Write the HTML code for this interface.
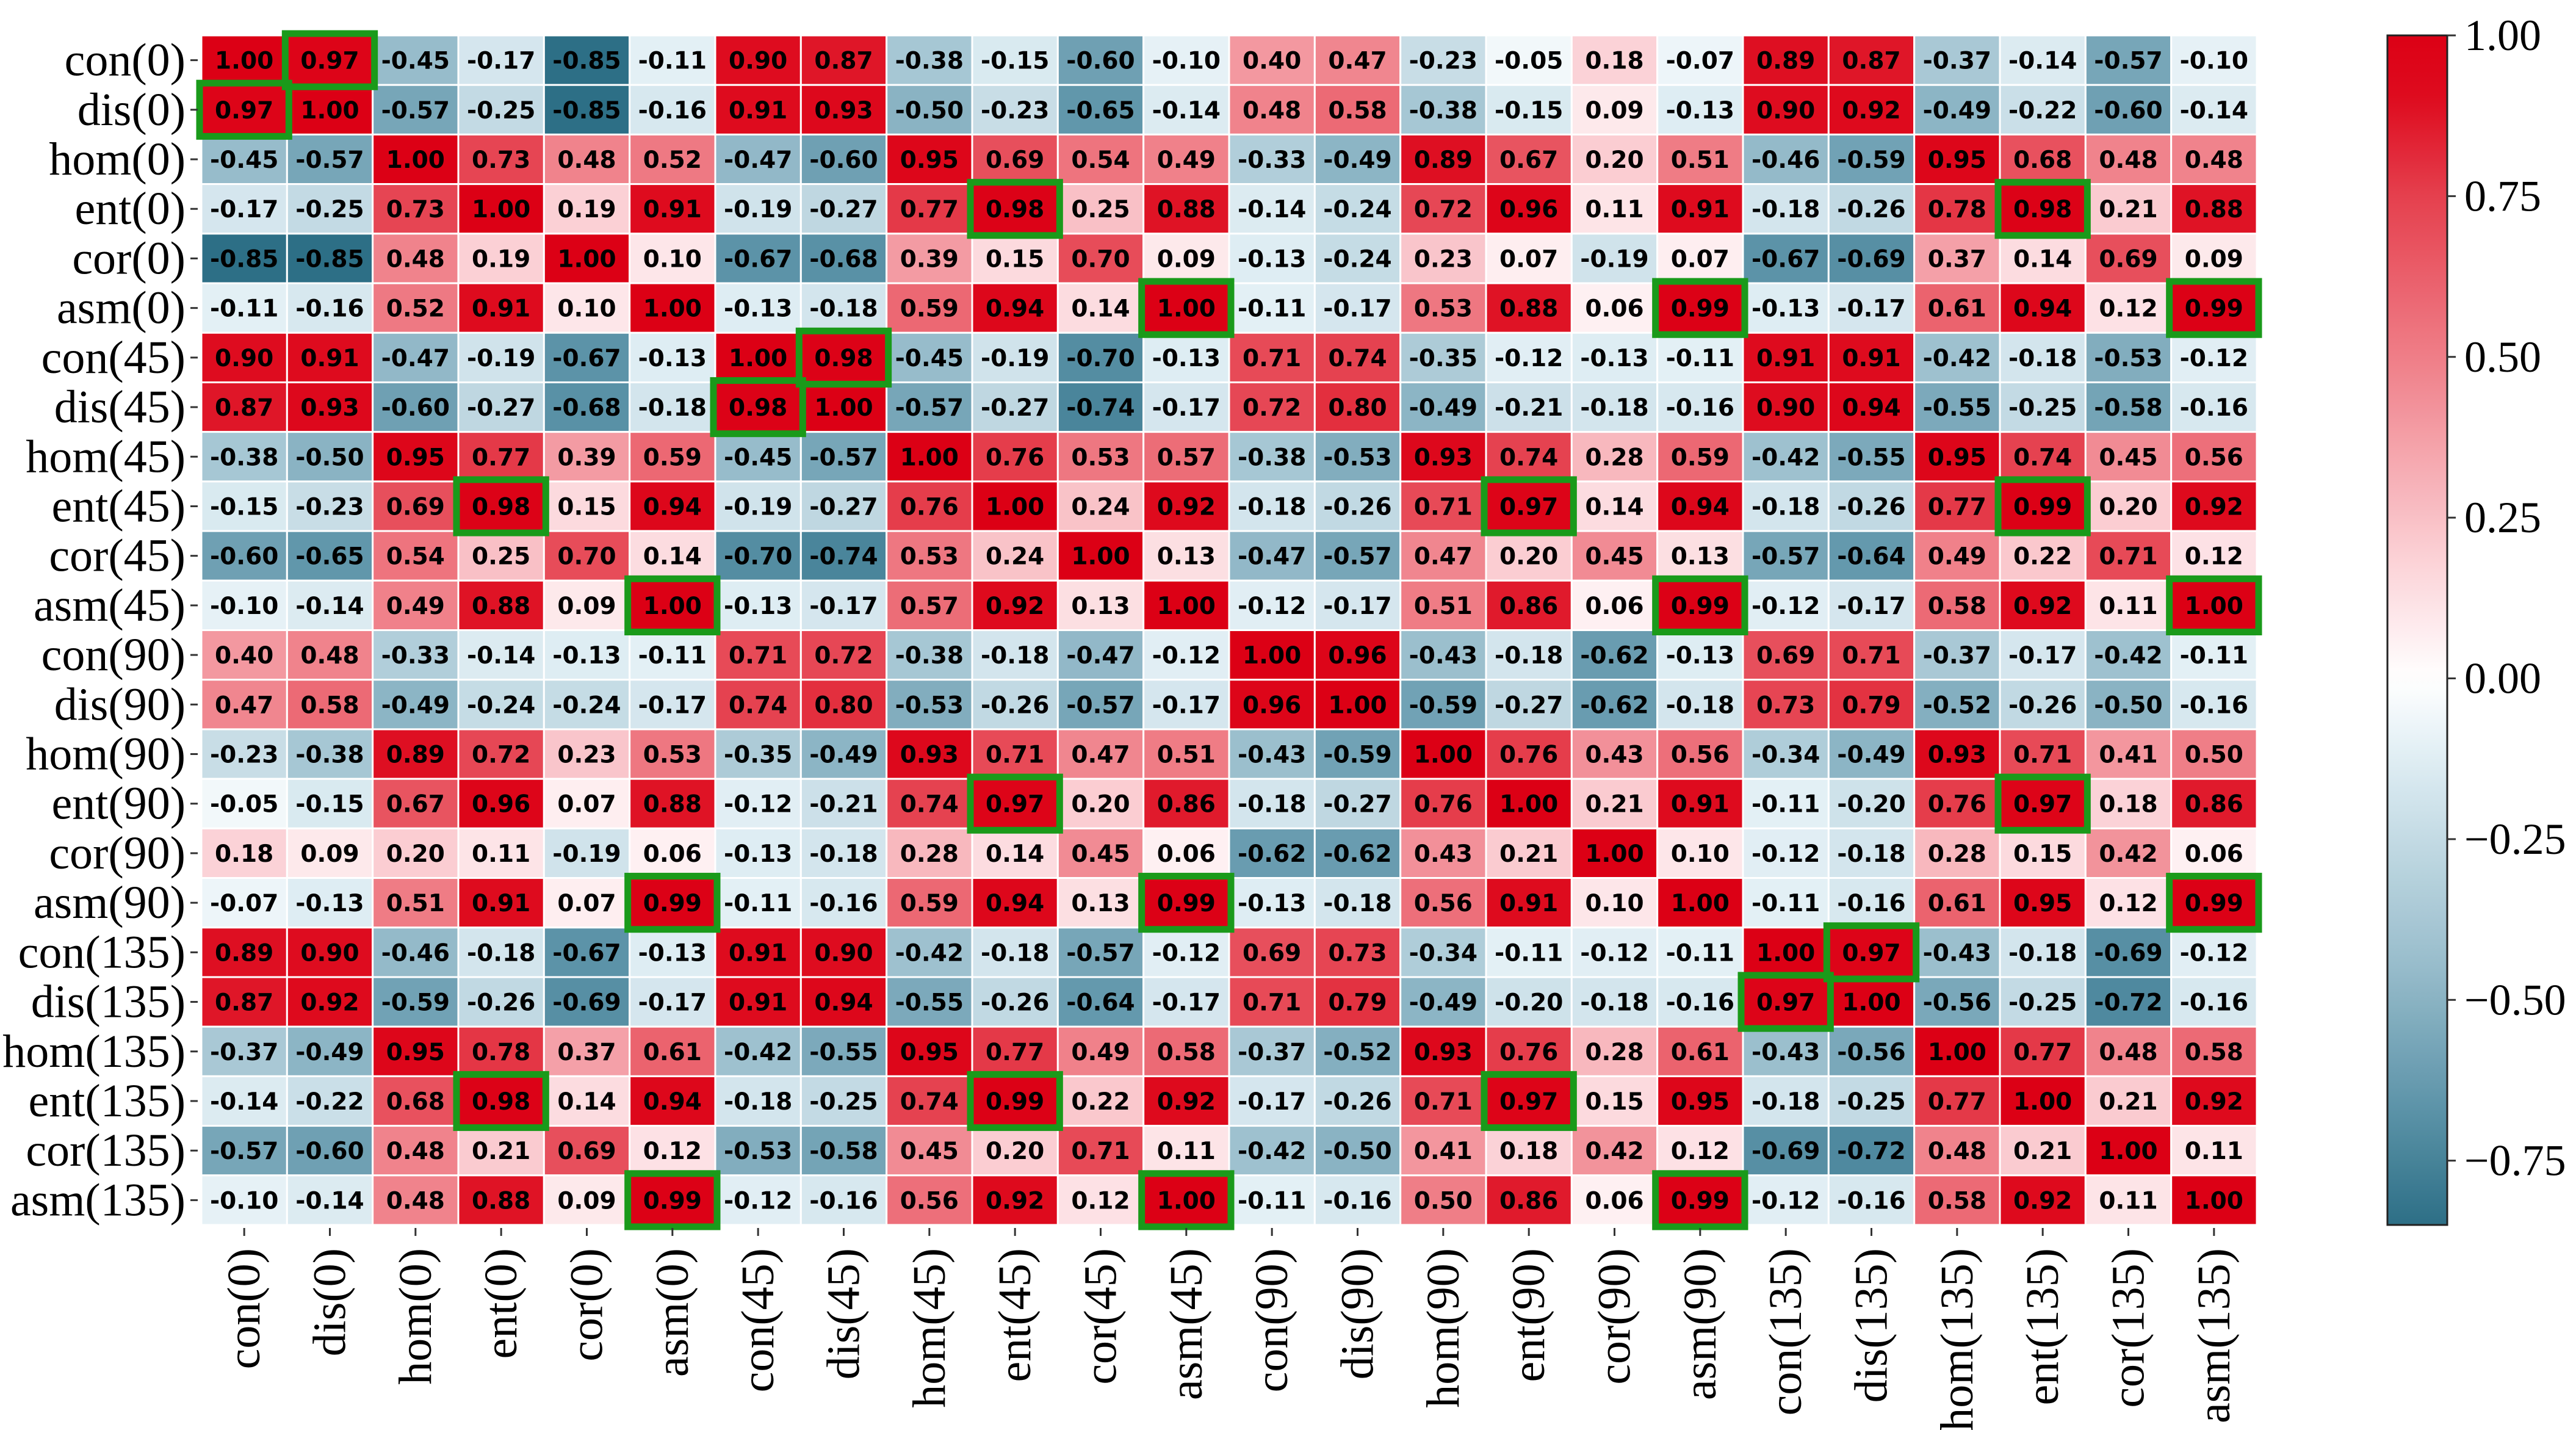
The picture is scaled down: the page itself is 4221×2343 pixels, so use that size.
<!DOCTYPE html>
<html><head><meta charset="utf-8">
<style>
html,body{margin:0;padding:0;background:#fff;}
svg{display:block;}
</style></head>
<body>
<svg id="chart" xmlns="http://www.w3.org/2000/svg" width="4221" height="2343" viewBox="0 0 4221 2343">
<rect x="0" y="0" width="4221" height="2343" fill="#ffffff"/>
<g id="cells"></g>
<g id="boxes"></g>
<g id="ylabels"></g>
<g id="xlabels"></g>
<g id="cbar"></g>
</svg>
<script>
const labels = ["con(0)","dis(0)","hom(0)","ent(0)","cor(0)","asm(0)","con(45)","dis(45)","hom(45)","ent(45)","cor(45)","asm(45)","con(90)","dis(90)","hom(90)","ent(90)","cor(90)","asm(90)","con(135)","dis(135)","hom(135)","ent(135)","cor(135)","asm(135)"];
const row0 = [1.00,0.97,-0.45,-0.17,-0.85,-0.11,0.90,0.87,-0.38,-0.15,-0.60,-0.10,0.40,0.47,-0.23,-0.05,0.18,-0.07,0.89,0.87,-0.37,-0.14,-0.57,-0.10];
const row1 = [0.97,1.00,-0.57,-0.25,-0.85,-0.16,0.91,0.93,-0.50,-0.23,-0.65,-0.14,0.48,0.58,-0.38,-0.15,0.09,-0.13,0.90,0.92,-0.49,-0.22,-0.60,-0.14];
const row2 = [-0.45,-0.57,1.00,0.73,0.48,0.52,-0.47,-0.60,0.95,0.69,0.54,0.49,-0.33,-0.49,0.89,0.67,0.20,0.51,-0.46,-0.59,0.95,0.68,0.48,0.48];
const row3 = [-0.17,-0.25,0.73,1.00,0.19,0.91,-0.19,-0.27,0.77,0.98,0.25,0.88,-0.14,-0.24,0.72,0.96,0.11,0.91,-0.18,-0.26,0.78,0.98,0.21,0.88];
const row4 = [-0.85,-0.85,0.48,0.19,1.00,0.10,-0.67,-0.68,0.39,0.15,0.70,0.09,-0.13,-0.24,0.23,0.07,-0.19,0.07,-0.67,-0.69,0.37,0.14,0.69,0.09];
const row5 = [-0.11,-0.16,0.52,0.91,0.10,1.00,-0.13,-0.18,0.59,0.94,0.14,1.00,-0.11,-0.17,0.53,0.88,0.06,0.99,-0.13,-0.17,0.61,0.94,0.12,0.99];
const row6 = [0.90,0.91,-0.47,-0.19,-0.67,-0.13,1.00,0.98,-0.45,-0.19,-0.70,-0.13,0.71,0.74,-0.35,-0.12,-0.13,-0.11,0.91,0.91,-0.42,-0.18,-0.53,-0.12];
const row7 = [0.87,0.93,-0.60,-0.27,-0.68,-0.18,0.98,1.00,-0.57,-0.27,-0.74,-0.17,0.72,0.80,-0.49,-0.21,-0.18,-0.16,0.90,0.94,-0.55,-0.25,-0.58,-0.16];
const row8 = [-0.38,-0.50,0.95,0.77,0.39,0.59,-0.45,-0.57,1.00,0.76,0.53,0.57,-0.38,-0.53,0.93,0.74,0.28,0.59,-0.42,-0.55,0.95,0.74,0.45,0.56];
const row9 = [-0.15,-0.23,0.69,0.98,0.15,0.94,-0.19,-0.27,0.76,1.00,0.24,0.92,-0.18,-0.26,0.71,0.97,0.14,0.94,-0.18,-0.26,0.77,0.99,0.20,0.92];
const row10 = [-0.60,-0.65,0.54,0.25,0.70,0.14,-0.70,-0.74,0.53,0.24,1.00,0.13,-0.47,-0.57,0.47,0.20,0.45,0.13,-0.57,-0.64,0.49,0.22,0.71,0.12];
const row11 = [-0.10,-0.14,0.49,0.88,0.09,1.00,-0.13,-0.17,0.57,0.92,0.13,1.00,-0.12,-0.17,0.51,0.86,0.06,0.99,-0.12,-0.17,0.58,0.92,0.11,1.00];
const row12 = [0.40,0.48,-0.33,-0.14,-0.13,-0.11,0.71,0.72,-0.38,-0.18,-0.47,-0.12,1.00,0.96,-0.43,-0.18,-0.62,-0.13,0.69,0.71,-0.37,-0.17,-0.42,-0.11];
const row13 = [0.47,0.58,-0.49,-0.24,-0.24,-0.17,0.74,0.80,-0.53,-0.26,-0.57,-0.17,0.96,1.00,-0.59,-0.27,-0.62,-0.18,0.73,0.79,-0.52,-0.26,-0.50,-0.16];
const row14 = [-0.23,-0.38,0.89,0.72,0.23,0.53,-0.35,-0.49,0.93,0.71,0.47,0.51,-0.43,-0.59,1.00,0.76,0.43,0.56,-0.34,-0.49,0.93,0.71,0.41,0.50];
const row15 = [-0.05,-0.15,0.67,0.96,0.07,0.88,-0.12,-0.21,0.74,0.97,0.20,0.86,-0.18,-0.27,0.76,1.00,0.21,0.91,-0.11,-0.20,0.76,0.97,0.18,0.86];
const row16 = [0.18,0.09,0.20,0.11,-0.19,0.06,-0.13,-0.18,0.28,0.14,0.45,0.06,-0.62,-0.62,0.43,0.21,1.00,0.10,-0.12,-0.18,0.28,0.15,0.42,0.06];
const row17 = [-0.07,-0.13,0.51,0.91,0.07,0.99,-0.11,-0.16,0.59,0.94,0.13,0.99,-0.13,-0.18,0.56,0.91,0.10,1.00,-0.11,-0.16,0.61,0.95,0.12,0.99];
const row18 = [0.89,0.90,-0.46,-0.18,-0.67,-0.13,0.91,0.90,-0.42,-0.18,-0.57,-0.12,0.69,0.73,-0.34,-0.11,-0.12,-0.11,1.00,0.97,-0.43,-0.18,-0.69,-0.12];
const row19 = [0.87,0.92,-0.59,-0.26,-0.69,-0.17,0.91,0.94,-0.55,-0.26,-0.64,-0.17,0.71,0.79,-0.49,-0.20,-0.18,-0.16,0.97,1.00,-0.56,-0.25,-0.72,-0.16];
const row20 = [-0.37,-0.49,0.95,0.78,0.37,0.61,-0.42,-0.55,0.95,0.77,0.49,0.58,-0.37,-0.52,0.93,0.76,0.28,0.61,-0.43,-0.56,1.00,0.77,0.48,0.58];
const row21 = [-0.14,-0.22,0.68,0.98,0.14,0.94,-0.18,-0.25,0.74,0.99,0.22,0.92,-0.17,-0.26,0.71,0.97,0.15,0.95,-0.18,-0.25,0.77,1.00,0.21,0.92];
const row22 = [-0.57,-0.60,0.48,0.21,0.69,0.12,-0.53,-0.58,0.45,0.20,0.71,0.11,-0.42,-0.50,0.41,0.18,0.42,0.12,-0.69,-0.72,0.48,0.21,1.00,0.11];
const row23 = [-0.10,-0.14,0.48,0.88,0.09,0.99,-0.12,-0.16,0.56,0.92,0.12,1.00,-0.11,-0.16,0.50,0.86,0.06,0.99,-0.12,-0.16,0.58,0.92,0.11,1.00];
const matrix = [row0,row1,row2,row3,row4,row5,row6,row7,row8,row9,row10,row11,row12,row13,row14,row15,row16,row17,row18,row19,row20,row21,row22,row23];
const cbarTicks = [1.00,0.75,0.50,0.25,0.00,-0.25,-0.50,-0.75];
const vmin = -0.85, vmax = 1.00;

const NS = "http://www.w3.org/2000/svg";
const X0 = 330, X1 = 3698, Y0 = 58, Y1 = 2007;
const n = labels.length;
const cw = (X1 - X0) / n, rh = (Y1 - Y0) / n;
const xPos = i => X0 + i * cw;
const yPos = j => Y0 + j * rh;

const stops = [
  [-1.00,[32,100,124]],[-0.85,[45,111,134]],[-0.67,[92,147,168]],[-0.45,[151,188,203]],
  [-0.16,[215,232,239]],[-0.11,[227,240,245]],[0.00,[255,255,255]],[0.10,[253,230,233]],
  [0.19,[251,208,213]],[0.48,[240,131,140]],[0.75,[229,64,78]],[0.90,[222,12,31]],[1.00,[220,0,21]]
];
function color(v){
  v = Math.max(-1, Math.min(1, v));
  for (let k = 0; k < stops.length - 1; k++){
    const a = stops[k], b = stops[k+1];
    if (v >= a[0] && v <= b[0]){
      const t = (v - a[0]) / (b[0] - a[0]);
      const c = a[1].map((x, i) => Math.round(x + (b[1][i] - x) * t));
      return "rgb(" + c.join(",") + ")";
    }
  }
  return "rgb(220,0,21)";
}
function mk(tag, attrs, parent){
  const e = document.createElementNS(NS, tag);
  for (const k in attrs) e.setAttribute(k, attrs[k]);
  parent.appendChild(e);
  return e;
}
const gc = document.getElementById("cells");
const gb = document.getElementById("boxes");
const gy = document.getElementById("ylabels");
const gx = document.getElementById("xlabels");
const gcb = document.getElementById("cbar");

for (let r = 0; r < n; r++){
  for (let c = 0; c < n; c++){
    const v = matrix[r][c];
    const rect = mk("rect", {x: xPos(c), y: yPos(r), width: cw, height: rh, fill: color(v), stroke: "#ffffff", "stroke-width": 3}, gc);
    
    
    const t = mk("text", {x: xPos(c) + cw/2, y: yPos(r) + rh/2 + 14, "text-anchor": "middle", "font-family": "DejaVu Sans, sans-serif", "font-weight": "bold", "font-size": 39, fill: "#000"}, gc);
    t.textContent = v.toFixed(2);
    
    
    if (r !== c && Math.round(v*100) >= 97){
      const b = mk("rect", {x: xPos(c) - 3, y: yPos(r) - 3, width: cw + 6, height: rh + 6, fill: "none", stroke: "#1a9a1a", "stroke-width": 11}, gb);
      
      
    }
  }
}
for (let i = 0; i < n; i++){
  const cy = yPos(i) + rh/2;
  const tk = mk("line", {x1: X0 - 18, x2: X0 - 6, y1: cy, y2: cy, stroke: "#333", "stroke-width": 3}, gy);
  
  
  const t = mk("text", {x: X0 - 26, y: cy + 25, "text-anchor": "end", "font-family": "Liberation Serif, serif", "font-size": 76, fill: "#000"}, gy);
  t.textContent = labels[i];
  
  

  const cx = xPos(i) + cw/2;
  const tx = mk("line", {x1: cx, x2: cx, y1: Y1 + 5, y2: Y1 + 18, stroke: "#333", "stroke-width": 3}, gx);
  
  
  const lx = mk("text", {x: 0, y: 0, transform: "translate(" + (cx + 25) + "," + (Y1 + 38) + ") rotate(-90)", "text-anchor": "end", "font-family": "Liberation Serif, serif", "font-size": 76, fill: "#000"}, gx);
  lx.textContent = labels[i];
  
  
}
// colorbar
const CX0 = 3912, CX1 = 4010;
const cyPos = v => Y0 + (vmax - v) / (vmax - vmin) * (Y1 - Y0);
const defs = mk("defs", {}, gcb);
const grad = mk("linearGradient", {id: "cg", x1: 0, y1: 0, x2: 0, y2: 1}, defs);
for (let k = 0; k <= 60; k++){
  const v = vmax - (vmax - vmin) * k / 60;
  mk("stop", {offset: (k/60), "stop-color": color(v)}, grad);
}
const cb = mk("rect", {x: CX0, y: Y0, width: CX1 - CX0, height: Y1 - Y0, fill: "url(#cg)", stroke: "#222", "stroke-width": 3}, gcb);


cbarTicks.forEach(v => {
  const y = cyPos(v);
  const l = mk("line", {x1: CX1, x2: CX1 + 14, y1: y, y2: y, stroke: "#333", "stroke-width": 3}, gcb);
  
  
  const t = mk("text", {x: 4038, y: y + 24, "font-family": "Liberation Serif, serif", "font-size": 72, fill: "#000"}, gcb);
  t.textContent = (v < 0 ? "\u2212" : "") + Math.abs(v).toFixed(2);
  
  
});
</script>
</body></html>
